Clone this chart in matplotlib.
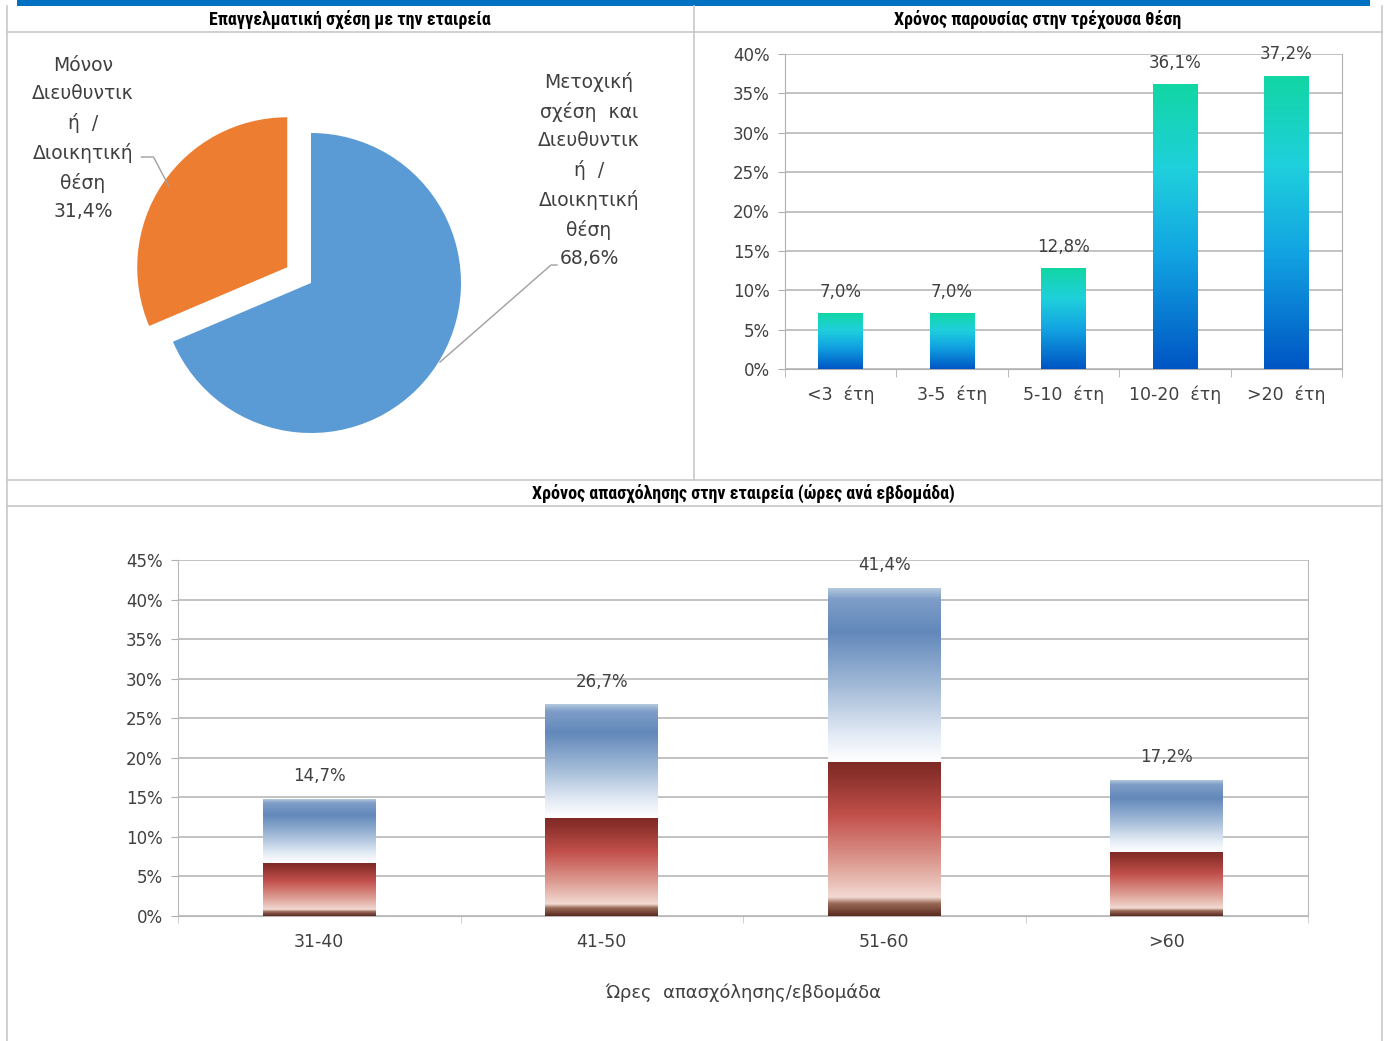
import numpy as np
import matplotlib
matplotlib.use('Agg')
import matplotlib.pyplot as plt
from matplotlib.colors import LinearSegmentedColormap
from matplotlib.lines import Line2D

# ------------------------------------------------------------------
# data
# ------------------------------------------------------------------
pie_labels = ['Μετοχική\nσχέση  και\nΔιευθυντικ\nή  /\nΔιοικητική\nθέση',
              'Μόνον\nΔιευθυντικ\nή  /\nΔιοικητική\nθέση']
pie_values = [68.6, 31.4]

tenure_cats = ['<3  έτη', '3-5  έτη', '5-10  έτη', '10-20  έτη', '>20  έτη']
tenure_vals = [7.0, 7.0, 12.8, 36.1, 37.2]

hours_cats = ['31-40', '41-50', '51-60', '>60']
hours_total = [14.7, 26.7, 41.4, 17.2]
hours_lower = [6.7, 12.4, 19.5, 8.1]   # red (lower) part of each bar

W, H = 1384, 1041
fig = plt.figure(figsize=(W / 100, H / 100), dpi=100)
fig.patch.set_facecolor('white')

TXT = '#404040'
TITLE_FONT = ['Roboto Condensed', 'Open Sans Condensed', 'Liberation Sans Narrow', 'DejaVu Sans']


def px_axes(x0, y0, x1, y1, **kw):
    """axes from pixel box (top-left origin)"""
    return fig.add_axes([x0 / W, 1 - y1 / H, (x1 - x0) / W, (y1 - y0) / H], **kw)


def pct(v):
    return f'{v:.1f}%'.replace('.', ',')


# ------------------------------------------------------------------
# table frame + titles
# ------------------------------------------------------------------
bg = fig.add_axes([0, 0, 1, 1])
bg.set_xlim(0, W); bg.set_ylim(H, 0); bg.axis('off')
bg.add_patch(plt.Rectangle((17, 0), 1353, 6, color='#0070c0', lw=0))
gcol = '#c8c8c8'
for x, y0, y1 in [(7, 6, H), (1382, 6, H), (694, 6, 480)]:
    bg.add_line(Line2D([x, x], [y0, y1], color=gcol, lw=1.2))
for y in [32, 480, 506]:
    bg.add_line(Line2D([7, 1382], [y, y], color=gcol, lw=1.2))
tkw = dict(ha='center', va='center', fontsize=13, fontweight='bold',
           family=TITLE_FONT, fontstretch='condensed')
bg.text(350, 19, 'Επαγγελματική σχέση με την εταιρεία', **tkw)
bg.text(1038, 19, 'Χρόνος παρουσίας στην τρέχουσα θέση', **tkw)
bg.text(743, 493, 'Χρόνος απασχόλησης στην εταιρεία (ώρες ανά εβδομάδα)', **tkw)

# ------------------------------------------------------------------
# pie
# ------------------------------------------------------------------
ax1 = px_axes(141, 113, 481, 453)
ax1.pie(pie_values, colors=['#5b9bd5', '#ed7d31'], startangle=90, counterclock=False,
        explode=[0, 0.19], radius=1.0, wedgeprops=dict(linewidth=0))
lim = 170 / 150
ax1.set_xlim(-lim, lim); ax1.set_ylim(-lim, lim)
ax1.set_aspect('auto')
ax1.text(1.853, 0.753, pie_labels[0] + '\n' + pct(pie_values[0]), ha='center', va='center',
         fontsize=13.5, color=TXT, linespacing=1.62, clip_on=False)
ax1.text(-1.52, 0.963, pie_labels[1] + '\n' + pct(pie_values[1]), ha='center', va='center',
         fontsize=13.5, color=TXT, linespacing=1.62, clip_on=False)
ax1.plot([1.64, 1.60, 0.86], [0.12, 0.12, -0.527], color='#a0a0a0', lw=1, clip_on=False)
ax1.plot([-1.13, -1.05, -0.95], [0.84, 0.84, 0.65], color='#a0a0a0', lw=1, clip_on=False)

# ------------------------------------------------------------------
# tenure bars (gradient)
# ------------------------------------------------------------------
ax2 = px_axes(785, 54, 1342, 369)
cm_teal = LinearSegmentedColormap.from_list(
    'teal', [(0, '#12d6a4'), (0.3, '#1fd0dc'), (0.6, '#12a4e2'), (1, '#0055c4')])
grad = np.linspace(0, 1, 256).reshape(-1, 1)
bw = 0.4
x2 = np.arange(len(tenure_cats))
for xi, v in zip(x2, tenure_vals):
    ax2.imshow(grad, cmap=cm_teal, aspect='auto', extent=[xi - bw / 2, xi + bw / 2, 0, v],
               zorder=3)
    ax2.text(xi, v + 1.6, pct(v), ha='center', va='bottom', fontsize=12, color=TXT)
ax2.set_xlim(-0.5, len(tenure_cats) - 0.5)
ax2.set_ylim(0, 40)
ax2.set_yticks(np.arange(0, 41, 5))
ax2.set_yticklabels([f'{t}%' for t in range(0, 41, 5)])
ax2.set_xticks(x2)
ax2.set_xticklabels(tenure_cats)
ax2.set_xticks(np.arange(-0.5, len(tenure_cats), 1), minor=True)
ax2.tick_params(axis='x', which='major', length=0, pad=12, labelsize=12.5, labelcolor=TXT)
ax2.tick_params(axis='x', which='minor', length=6, color='#b0b0b0')
ax2.tick_params(axis='y', length=5, color='#b0b0b0', labelsize=12, labelcolor=TXT, pad=6)
ax2.grid(True, axis='y', color='#b8b8b8', lw=1.2, zorder=0)
ax2.spines['top'].set_visible(False)
for s in ['left', 'bottom', 'right']:
    ax2.spines[s].set_color('#b0b0b0')
ax2.set_axisbelow(True)

# ------------------------------------------------------------------
# hours bars (stacked gradient)
# ------------------------------------------------------------------
ax3 = px_axes(178, 560, 1308, 916)
cm_red = LinearSegmentedColormap.from_list(
    'red', [(0, '#7e2a26'), (0.08, '#8a302b'), (0.35, '#c2504b'), (0.65, '#dc9a90'),
            (0.88, '#f2dad2'), (0.92, '#9a6a58'), (1, '#5a2a20')])
cm_blue = LinearSegmentedColormap.from_list(
    'blue', [(0, '#b4c8de'), (0.06, '#7f9ec8'), (0.25, '#6288ba'), (0.55, '#9fb8d6'),
             (0.85, '#e4ecf6'), (1, '#ffffff')])
x3 = np.arange(len(hours_cats))
bw3 = 0.4
for xi, lo, tot in zip(x3, hours_lower, hours_total):
    ax3.imshow(grad, cmap=cm_red, aspect='auto', extent=[xi - bw3 / 2, xi + bw3 / 2, 0, lo],
               zorder=3)
    ax3.imshow(grad, cmap=cm_blue, aspect='auto', extent=[xi - bw3 / 2, xi + bw3 / 2, lo, tot],
               zorder=3)
    ax3.text(xi, tot + 1.8, pct(tot), ha='center', va='bottom', fontsize=12, color=TXT)
ax3.set_xlim(-0.5, len(hours_cats) - 0.5)
ax3.set_ylim(0, 45)
ax3.set_yticks(np.arange(0, 46, 5))
ax3.set_yticklabels([f'{t}%' for t in range(0, 46, 5)])
ax3.set_xticks(x3)
ax3.set_xticklabels(hours_cats)
ax3.set_xticks(np.arange(-0.5, len(hours_cats), 1), minor=True)
ax3.tick_params(axis='x', which='major', length=0, pad=12, labelsize=12.5, labelcolor=TXT)
ax3.tick_params(axis='x', which='minor', length=5, color='#c8c8c8')
ax3.tick_params(axis='y', length=5, color='#b0b0b0', labelsize=12, labelcolor=TXT, pad=6)
ax3.grid(True, axis='y', color='#b8b8b8', lw=1.2, zorder=0)
ax3.spines['top'].set_visible(False)
for s in ['left', 'bottom', 'right']:
    ax3.spines[s].set_color('#b8b8b8')
ax3.set_axisbelow(True)
ax3.set_xlabel('Ώρες  απασχόλησης/εβδομάδα', fontsize=13, color=TXT, labelpad=24)

plt.savefig('out.png', dpi=100)
